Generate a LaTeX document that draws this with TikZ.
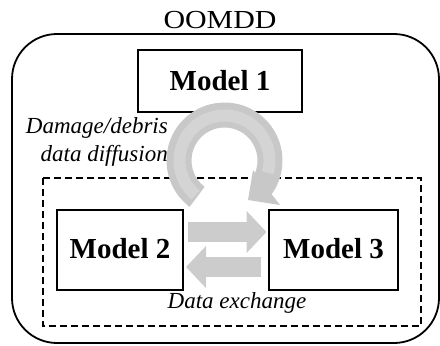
\documentclass[tikz,border=0pt]{standalone}
\usepackage{fontspec}
\setmainfont{Liberation Serif}
\usetikzlibrary{calc,arrows.meta}
\definecolor{ringgray}{RGB}{200,200,200}
\definecolor{ringlight}{RGB}{212,212,212}
\definecolor{arrgray}{RGB}{204,204,204}
\begin{document}
\begin{tikzpicture}[x=1pt,y=-1pt,
  modelbox/.style={draw, line width=2pt, fill=white, inner sep=0pt,
    font=\fontsize{29}{32}\selectfont\bfseries},
  blockarrow/.style={draw=arrgray, line width=20pt,
    -{Triangle[length=20pt,width=41pt]}},
  lbl/.style={font=\itshape\fontsize{23}{28}\selectfont, inner sep=0pt},
  frame/.style={line width=1.8pt}]
\useasboundingbox (0,0) rectangle (440,346);
% title and outer frame
\node[font=\fontsize{26}{28}\selectfont, xscale=1.15] (title) at (220,20) {OOMDD};
\draw[frame, rounded corners=45pt] (12,34) rectangle (439,343);
% dashed group
\draw[frame, dash pattern=on 7pt off 4pt] (43,178) rectangle (421,326);
% models
\node[modelbox, minimum width=164pt, minimum height=62pt] (m1) at (220,81) {Model 1};
\node[modelbox, minimum width=126pt, minimum height=80pt] (m2) at (120,250) {\raisebox{4pt}{Model 2}};
\node[modelbox, minimum width=129pt, minimum height=80pt] (m3) at (333.5,250) {\raisebox{4pt}{Model 3}};
% circular arrow
\coordinate (c) at (224.5,160.5);
\fill[ringgray] ($(c)+(127:58)$) arc[start angle=127, end angle=395.5, radius=58]
  -- (280,205) -- (248,200) -- (253,170)
  -- ($(c)+(21.9:33)$) arc[start angle=381.9, end angle=127, radius=33] -- cycle;
\draw[ringlight, line width=12pt] ($(c)+(130:45)$) arc[start angle=130, end angle=376, radius=45];
% data exchange arrows
\draw[blockarrow] ($(m2.east)+(4,-18)$) -- ($(m3.west)+(-1.5,-18)$);
\draw[blockarrow] ($(m3.west)+(-7,17)$) -- ($(m2.east)+(2,17)$);
% labels
\node[lbl, anchor=north east, align=right] (dd) at (168,117) {Damage/debris\\data diffusion};
\node[lbl, anchor=base] (dx) at (237,308) {Data exchange};
\end{tikzpicture}
\end{document}
